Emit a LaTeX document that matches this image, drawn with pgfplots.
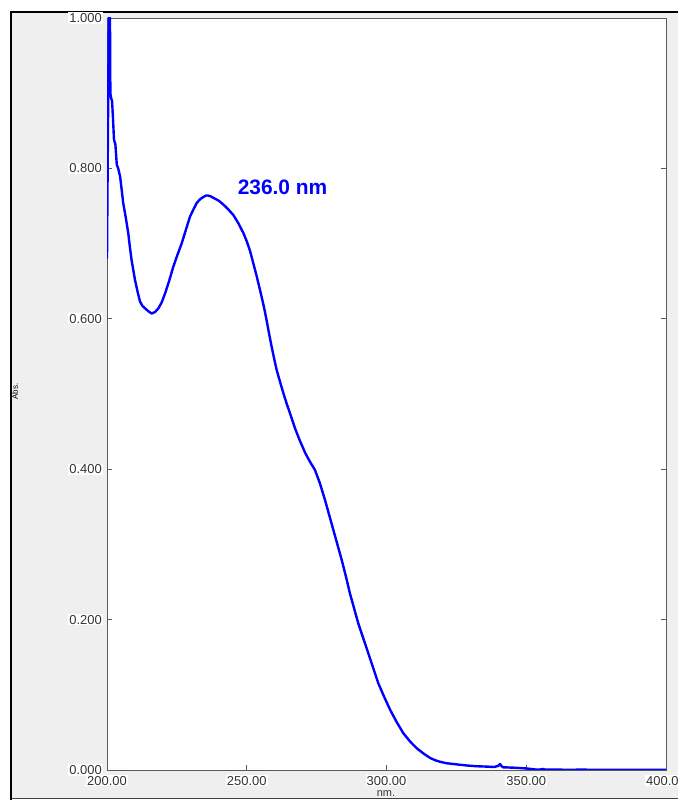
\documentclass[border=0pt]{standalone}
\usepackage{fontspec}
\setmainfont{Liberation Sans}
\usepackage{pgfplots}
\pgfplotsset{compat=1.18}
\definecolor{panelgray}{RGB}{239,239,239}
\definecolor{framegray}{RGB}{90,90,90}
\definecolor{specblue}{RGB}{0,0,255}
\begin{document}
\begin{tikzpicture}[x=1bp,y=1bp]
\useasboundingbox (0,0) rectangle (678,800);
\begin{scope}
\clip (0,0) rectangle (678,800);
\fill[panelgray] (11,2) rectangle (700,788);
\draw[black!75, line width=1bp] (11,1.5) -- (700,1.5);
\draw[black, line width=2.2bp] (11,0) -- (11,788) -- (700,788);
\end{scope}
\begin{axis}[
  at={(107bp,30bp)}, anchor=south west,
  scale only axis, width=559bp, height=752bp,
  xmin=200, xmax=400, ymin=0, ymax=1,
  axis background/.style={fill=white},
  axis line style={framegray, line width=0.9bp},
  xtick={200,250,300,350,400},
  ytick={0,0.2,0.4,0.6,0.8,1.0},
  xtick pos=bottom, ytick pos=both,
  tick align=inside, major tick length=5bp,
  tick style={framegray, line width=0.7bp},
  /pgf/number format/assume math mode=true,
  xticklabel style={/pgf/number format/.cd, fixed, fixed zerofill, precision=2, /tikz/.cd,
     font=\fontsize{13}{13}\selectfont, text=black!80, fill=white, inner sep=1bp, yshift=-5bp},
  yticklabel style={/pgf/number format/.cd, fixed, fixed zerofill, precision=3, /tikz/.cd,
     font=\fontsize{13}{13}\selectfont, text=black!80, fill=white, inner sep=1bp, xshift=-4bp},
  scaled ticks=false,
  xlabel={nm.},
  xlabel style={at={(rel axis cs:0.499,0)}, anchor=center, yshift=-24bp, font=\fontsize{11}{11}\selectfont, text=black!80},
  ylabel={Abs.},
  ylabel style={at={(rel axis cs:-0.1646,0.503)}, anchor=center, font=\fontsize{8}{8}\selectfont},
  clip=true,
]
\addplot[specblue, line width=2.4bp, line join=round] coordinates {
(200.0,0.680) (200.15,0.760) (200.3,0.830) (200.5,0.930) (200.75,1.05) (201.0,1.05)
(201.2,0.900) (201.5,0.893) (201.8,0.890) (202.1,0.870) (202.5,0.838) (203.0,0.832)
(203.5,0.805) (204.0,0.800) (204.7,0.789) (205.3,0.770) (205.8,0.754) (206.7,0.735)
(207.6,0.714) (208.2,0.695) (208.8,0.678) (209.4,0.665) (210.0,0.652) (211.0,0.635)
(211.8,0.623) (212.7,0.617) (213.6,0.614) (214.8,0.610) (216.0,0.607) (217.2,0.609)
(218.4,0.614) (219.6,0.622) (220.8,0.634) (222.2,0.650) (223.7,0.669) (225.2,0.685)
(226.7,0.700) (228.2,0.718) (229.7,0.736) (231.0,0.746) (232.1,0.754) (233.3,0.759)
(234.5,0.762) (235.5,0.764) (236.0,0.764) (237.0,0.763) (238.5,0.760) (240.0,0.757)
(241.6,0.752) (243.5,0.745) (245.2,0.738) (247.0,0.727) (248.8,0.714) (250.0,0.703)
(251.2,0.690) (252.4,0.673) (253.6,0.656) (254.5,0.642) (255.4,0.628) (256.3,0.613)
(257.1,0.598) (258.0,0.580) (258.9,0.563) (259.8,0.547) (260.7,0.532) (262.0,0.515)
(263.1,0.501) (264.3,0.487) (265.5,0.474) (267.3,0.454) (269.1,0.437) (271.0,0.421)
(272.6,0.410) (274.4,0.399) (276.2,0.381) (278.0,0.359) (279.5,0.339) (281.0,0.319)
(282.5,0.299) (284.0,0.279) (285.5,0.257) (286.9,0.235) (288.4,0.215) (289.9,0.195)
(291.7,0.175) (293.5,0.155) (295.3,0.135) (297.1,0.115) (299.2,0.097) (301.3,0.080)
(303.6,0.064) (306.0,0.049) (308.4,0.038) (310.8,0.029) (313.2,0.022) (315.6,0.016)
(317.4,0.013) (319.1,0.011) (321.5,0.009) (323.8,0.008) (326.2,0.007) (328.7,0.006)
(332.3,0.005) (335.9,0.0045) (338.5,0.004) (340.0,0.0055) (340.6,0.008) (341.2,0.005)
(341.7,0.0036) (346.0,0.003) (350.2,0.002) (353.7,0.0005) (355.5,0.0008) (356.0,0.0015)
(356.6,0.0006) (360.0,0.0005) (365.6,0.0003) (370.0,0.0005) (375.0,0.0002) (385.0,0.0002)
(400.0,0.0002)
};
\node[text=specblue, font=\fontsize{21}{21}\selectfont\bfseries] at (axis cs:262.8,0.775) {236.0 nm};
\end{axis}
\end{tikzpicture}
\end{document}
